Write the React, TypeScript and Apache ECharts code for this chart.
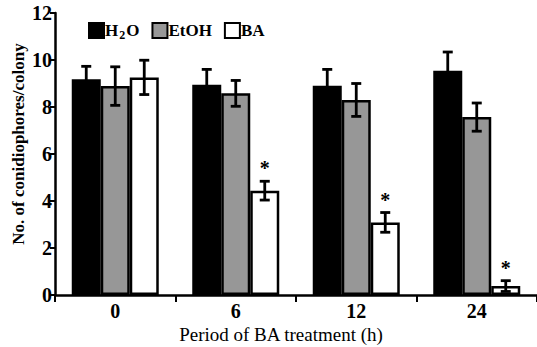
import React, { useEffect, useRef } from "react";
import * as echarts from "echarts";

const categories = ["0", "6", "12", "24"];
const seriesNames = ["H2O", "EtOH", "BA"];
const h2oValues = [9.18, 8.95, 8.9, 9.54];
const h2oErrors = [0.55, 0.65, 0.7, 0.8];
const etohValues = [8.89, 8.58, 8.3, 7.57];
const etohErrors = [0.82, 0.55, 0.7, 0.6];
const baValues = [9.26, 4.44, 3.09, 0.38];
const baErrors = [0.73, 0.4, 0.42, 0.23];
const baSignificant = [false, true, true, true];
const yTicks = [0, 2, 4, 6, 8, 10, 12];

const FONT = "Liberation Serif";
const BAR_W = 29;

export default function App() {
  const ref = useRef<HTMLDivElement>(null);
  useEffect(() => {
    if (!ref.current) return;
    const chart = echarts.init(ref.current, undefined, { renderer: "svg" });
    const values = [h2oValues, etohValues, baValues];
    const errors = [h2oErrors, etohErrors, baErrors];
    const colors = ["#000000", "#979797", "#ffffff"];
    const errData: number[][] = [];
    values.forEach((vals, s) => {
      vals.forEach((v, c) => {
        errData.push([c, s, v, errors[s][c], s === 2 && baSignificant[c] ? 1 : 0]);
      });
    });
    const barSeries = seriesNames.map((name, s) => ({
      name,
      type: "bar",
      data: values[s],
      barWidth: BAR_W,
      barGap: "0%",
      itemStyle: { color: colors[s], borderColor: "#000", borderWidth: 2.5 },
      z: 2,
    }));
    chart.setOption({
      animation: false,
      textStyle: { fontFamily: FONT },
      grid: { left: 55, right: 0, top: 13, bottom: 52, containLabel: false },
      legend: {
        left: 83,
        top: 17,
        itemWidth: 15,
        itemHeight: 15,
        itemGap: 12,
        icon: "rect",
        data: seriesNames,
        formatter: (name: string) =>
          name === "H2O" ? "{b|H}{s|2}{b|O}" : "{b|" + name + "}",
        textStyle: {
          fontFamily: FONT,
          padding: [0, 0, 0, -4],
          rich: {
            b: { fontFamily: FONT, fontWeight: "bold", fontSize: 17, color: "#000" },
            s: {
              fontFamily: FONT,
              fontWeight: "bold",
              fontSize: 12,
              color: "#000",
              padding: [9, 1, 0, 1],
            },
          },
        },
      },
      xAxis: {
        type: "category",
        data: categories,
        axisLine: { lineStyle: { color: "#000", width: 2.5 } },
        axisTick: { show: true, length: 7, lineStyle: { color: "#000", width: 2 } },
        axisLabel: {
          color: "#000",
          fontFamily: FONT,
          fontWeight: "bold",
          fontSize: 20,
          margin: 6,
        },
      },
      yAxis: {
        type: "value",
        min: yTicks[0],
        max: yTicks[yTicks.length - 1],
        interval: 2,
        splitLine: { show: false },
        axisLine: { show: true, lineStyle: { color: "#000", width: 2.5 } },
        axisTick: { show: true, length: 5, lineStyle: { color: "#000", width: 2 } },
        axisLabel: {
          color: "#000",
          fontFamily: FONT,
          fontWeight: "bold",
          fontSize: 20,
          margin: 3,
        },
      },
      series: [
        ...barSeries,
        {
          type: "custom",
          name: "errors",
          data: errData,
          z: 5,
          renderItem: (params: any, api: any) => {
            const c = api.value(0);
            const s = api.value(1);
            const v = api.value(2);
            const e = api.value(3);
            const sig = api.value(4);
            const dx = (s - 1) * BAR_W;
            const top = api.coord([c, v + e]);
            const bot = api.coord([c, v - e]);
            const x = top[0] + dx;
            const cap = 5;
            const st = { stroke: "#000", lineWidth: 2.8 };
            const children: any[] = [
              { type: "line", shape: { x1: x, y1: top[1], x2: x, y2: bot[1] }, style: st },
              { type: "line", shape: { x1: x - cap, y1: top[1], x2: x + cap, y2: top[1] }, style: st },
              { type: "line", shape: { x1: x - cap, y1: bot[1], x2: x + cap, y2: bot[1] }, style: st },
            ];
            if (sig) {
              children.push({
                type: "text",
                x: x,
                y: top[1] - 3,
                style: {
                  text: "*",
                  fill: "#000",
                  fontFamily: FONT,
                  fontWeight: "bold",
                  fontSize: 20,
                  align: "center",
                  verticalAlign: "bottom",
                },
              });
            }
            return { type: "group", children };
          },
        },
      ],
      graphic: [
        {
          type: "text",
          x: 18,
          y: 144,
          rotation: Math.PI / 2,
          style: {
            text: "No. of conidiophores/colony",
            fill: "#000",
            fontFamily: FONT,
            fontWeight: "bold",
            fontSize: 17,
            align: "center",
            verticalAlign: "middle",
          },
        },
        {
          type: "text",
          x: 281,
          y: 334,
          style: {
            text: "Period of BA treatment (h)",
            fill: "#000",
            fontFamily: FONT,
            fontSize: 19,
            align: "center",
            verticalAlign: "middle",
          },
        },
      ],
    });
    return () => chart.dispose();
  }, []);
  return (
    <div
      ref={ref}
      style={{ position: "fixed", left: 0, top: 0, width: 537, height: 347, background: "#fff" }}
    />
  );
}
